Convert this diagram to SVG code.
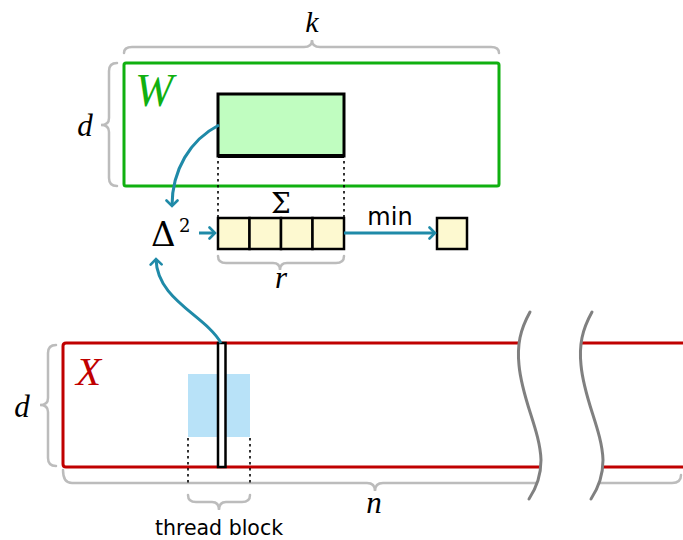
<svg xmlns="http://www.w3.org/2000/svg" width="683" height="540" viewBox="0 0 683 540">
<style>
.brace{fill:none;stroke:#bcbcbc;stroke-width:2.5;stroke-linecap:round}
.math{font-family:"Liberation Serif","DejaVu Serif",serif;font-style:italic;fill:#000}
.sym{font-family:"DejaVu Serif","Liberation Serif",serif;fill:#000}
.sans{font-family:"DejaVu Sans","Liberation Sans",sans-serif;fill:#000}
.dot{stroke:#000;stroke-width:1.6;stroke-dasharray:2.5,3.5;fill:none}
.cell{fill:#fdf9d0;stroke:#000;stroke-width:2.5}
.conn{fill:none;stroke:#1f8aa8;stroke-width:3}
.wave{fill:none;stroke:#808080;stroke-width:3;stroke-linecap:round}
</style>
<defs>
<marker id="arr" viewBox="-7 -7 9 14" markerWidth="9" markerHeight="14" refX="0" refY="0" orient="auto" markerUnits="userSpaceOnUse">
<path d="M-5.5,-5.5 Q-1.5,-1.5 0,0 Q-1.5,1.5 -5.5,5.5" fill="none" stroke="#1f8aa8" stroke-width="2.6" stroke-linecap="round"/>
</marker>
</defs>

<g id="W">
<rect x="124" y="63" width="375" height="123" rx="2" fill="none" stroke="#10b010" stroke-width="3"/>
<text class="math" x="135" y="106" font-size="46" style="fill:#10b010">W</text>
<path class="brace" d="M124,53 Q124,47 132,47 L304,47 Q312,47 312,40 Q312,47 320,47 L491,47 Q499,47 499,53"/>
<text class="math" x="312" y="32" font-size="30" text-anchor="middle">k</text>
<path class="brace" d="M117,63 Q109,63 109,71 L109,118 Q109,125 101,125 Q109,125 109,132 L109,178 Q109,186 117,186"/>
<text class="math" x="85" y="136" font-size="31" text-anchor="middle">d</text>
</g>

<g id="Wblock">
<rect x="218" y="94" width="126" height="62" fill="#c0fdc0" stroke="#000" stroke-width="3"/>
<line x1="218" y1="156" x2="344" y2="156" stroke="#000" stroke-width="4"/>
<line class="dot" x1="218" y1="161" x2="218" y2="217"/>
<line class="dot" x1="344" y1="161" x2="344" y2="217"/>
</g>

<g id="cells">
<rect class="cell" x="218" y="218" width="31.5" height="31"/>
<rect class="cell" x="249.5" y="218" width="31.5" height="31"/>
<rect class="cell" x="281" y="218" width="31.5" height="31"/>
<rect class="cell" x="312.5" y="218" width="31.5" height="31"/>
<text class="sym" x="281" y="213" font-size="28" text-anchor="middle">&#931;</text>
<path class="brace" d="M218,256 Q218,263 226,263 L273,263 Q280,263 280,270 Q280,263 287,263 L336,263 Q344,263 344,256"/>
<text class="math" x="281" y="288" font-size="31" text-anchor="middle">r</text>
</g>

<g id="min">
<rect class="cell" x="437" y="218" width="30" height="31"/>
</g>

<g id="delta">
<text class="sym" x="151" y="245.5" font-size="34">&#916;</text>
<text class="sym" x="179" y="232" font-size="18">2</text>
</g>

<g id="X">
<rect x="188" y="374" width="62" height="63" fill="#b8e2f8"/>
<path d="M683,343 L66,343 Q63,343 63,346 L63,464 Q63,467 66,467 L683,467" fill="none" stroke="#c00000" stroke-width="3"/>
<text class="math" x="76" y="385" font-size="41" style="fill:#c00000">X</text>
<path class="brace" d="M56,345 Q48,345 48,353 L48,398 Q48,405 40,405 Q48,405 48,412 L48,458 Q48,466 56,466"/>
<text class="math" x="22" y="417" font-size="31" text-anchor="middle">d</text>
<path class="brace" d="M63,470 Q63,483 72,483 L367,483 Q375,483 375,491 Q375,483 383,483 L672,483 Q681,483 681,475"/>
<text class="math" x="374" y="513" font-size="31" text-anchor="middle">n</text>
<line class="dot" x1="188" y1="438" x2="188" y2="484"/>
<line class="dot" x1="250" y1="438" x2="250" y2="484"/>
<path class="brace" d="M188,495 Q188,502 196,502 L212,502 Q219,502 219,510 Q219,502 226,502 L242,502 Q250,502 250,495"/>
<text class="sans" x="219" y="535" font-size="20.5" text-anchor="middle">thread block</text>
<rect x="218" y="343" width="7.5" height="124" fill="#fff" stroke="#000" stroke-width="2.5"/>
</g>

<g id="break">
<path d="M530,312 C520,330 517,345 519,365 C522,400 540,430 541,460 C541,478 535,490 529,499 L591,499 C597,490 603,478 603,460 C602,430 584,400 581,365 C579,345 582,330 592,312 Z" fill="#fff"/>
<path class="wave" d="M530,312 C520,330 517,345 519,365 C522,400 540,430 541,460 C541,478 535,490 529,499"/>
<path class="wave" d="M592,312 C582,330 579,345 581,365 C584,400 602,430 603,460 C603,478 597,490 591,499"/>
</g>

<g id="connectors">
<path class="conn" d="M219,125 C190,140 172,170 172,206" marker-end="url(#arr)"/>
<path class="conn" d="M221,343 C205,315 157,300 156,259" marker-end="url(#arr)"/>
<path class="conn" d="M199,233 L215,233" marker-end="url(#arr)"/>
<path class="conn" d="M344,233 L435,233" marker-end="url(#arr)"/>
<text class="sans" x="390" y="225" font-size="24" text-anchor="middle">min</text>
</g>
</svg>
